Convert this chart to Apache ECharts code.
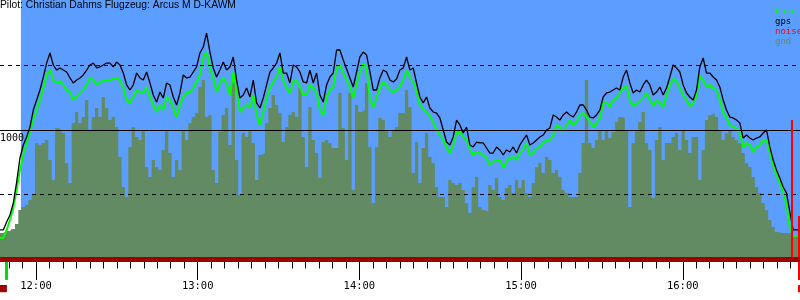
<!DOCTYPE html>
<html>
<head>
<meta charset="utf-8">
<style>
    html, body { margin: 0; padding: 0; background: #fff; }
    #barogram { width: 800px; height: 300px; }
</style>
</head>
<body>
<div id="barogram"></div>
<script src="https://cdn.jsdelivr.net/npm/echarts@6/dist/echarts.min.js"></script>
<script>
    // barogram: x = minutes since midnight, y = metres
    var title = 'Pilot: Christian Dahms Flugzeug: Arcus M D-KAWM';
    var startTime = '11:46:38';   // first fix
    var sampleSeconds = 74.2;     // logger interval

    var gps = [
        228, 228, 290, 344, 436, 598, 784, 884, 946, 1023, 1154, 1232, 1309, 1409, 1517, 1595, 1502, 1463, 1479, 1463,
        1448, 1402, 1363, 1386, 1402, 1425, 1463, 1502, 1517, 1479, 1487, 1502, 1517, 1517, 1487, 1525, 1502, 1440, 1348, 1309,
        1348, 1440, 1402, 1386, 1448, 1363, 1270, 1216, 1293, 1247, 1363, 1348, 1255, 1193, 1286, 1425, 1402, 1409, 1448, 1487,
        1595, 1641, 1749, 1602, 1479, 1409, 1463, 1525, 1463, 1487, 1564, 1386, 1247, 1270, 1324, 1255, 1386, 1209, 1170, 1247,
        1348, 1448, 1479, 1517, 1595, 1440, 1440, 1363, 1502, 1487, 1448, 1371, 1363, 1463, 1363, 1440, 1270, 1216, 1348, 1409,
        1440, 1618, 1618, 1541, 1471, 1402, 1332, 1448, 1564, 1602, 1579, 1448, 1309, 1309, 1402, 1463, 1448, 1386, 1371, 1394,
        1463, 1479, 1564, 1463, 1479, 1363, 1255, 1209, 1255, 1170, 1139, 1131, 1093, 1000, 907, 884, 946, 1077, 1039, 977,
        1023, 884, 869, 907, 900, 900, 861, 822, 822, 869, 846, 807, 846, 830, 869, 822, 884, 923, 961, 884,
        900, 923, 946, 961, 1000, 1015, 1116, 1100, 1077, 1116, 1139, 1116, 1100, 1139, 1193, 1193, 1154, 1100, 1093, 1116,
        1154, 1255, 1286, 1293, 1309, 1324, 1309, 1409, 1463, 1363, 1286, 1309, 1293, 1348, 1386, 1348, 1270, 1293, 1332, 1270,
        1324, 1409, 1502, 1479, 1448, 1348, 1286, 1255, 1232, 1309, 1487, 1556, 1440, 1440, 1409, 1386, 1332, 1232, 1154, 1100,
        1093, 1077, 1054, 938, 961, 938, 923, 938, 946, 977, 1000, 869, 768, 691, 629, 560, 514, 367, 228, 228, 228
    ];
    var baro = [
        166, 166, 228, 305, 398, 537, 691, 807, 900, 985, 1077, 1154, 1232, 1324, 1425, 1463, 1386, 1363, 1378, 1348,
        1309, 1293, 1232, 1255, 1286, 1309, 1348, 1402, 1386, 1348, 1371, 1378, 1386, 1386, 1394, 1402, 1386, 1324, 1232, 1209,
        1255, 1309, 1293, 1286, 1332, 1255, 1193, 1139, 1193, 1154, 1255, 1232, 1170, 1100, 1193, 1255, 1286, 1293, 1324, 1371,
        1425, 1556, 1602, 1479, 1402, 1293, 1363, 1402, 1363, 1270, 1448, 1309, 1139, 1170, 1193, 1178, 1270, 1116, 1039, 1139,
        1247, 1324, 1371, 1409, 1487, 1386, 1324, 1286, 1371, 1386, 1332, 1270, 1270, 1348, 1324, 1286, 1154, 1116, 1255, 1309,
        1332, 1479, 1502, 1440, 1386, 1332, 1247, 1348, 1448, 1517, 1479, 1232, 1178, 1255, 1324, 1371, 1348, 1309, 1293, 1309,
        1332, 1386, 1463, 1409, 1371, 1293, 1193, 1162, 1139, 1108, 1062, 1000, 961, 923, 861, 822, 884, 977, 985, 946,
        923, 846, 807, 830, 822, 807, 784, 730, 753, 768, 768, 707, 753, 784, 792, 768, 822, 846, 900, 807,
        822, 861, 869, 900, 923, 923, 961, 1039, 1023, 985, 1039, 1077, 1039, 1062, 1116, 1131, 1100, 1062, 1023, 1054,
        1093, 1209, 1216, 1178, 1232, 1247, 1286, 1324, 1340, 1232, 1185, 1201, 1224, 1247, 1286, 1232, 1185, 1232, 1209, 1178,
        1263, 1348, 1394, 1386, 1324, 1270, 1232, 1185, 1201, 1270, 1417, 1386, 1332, 1348, 1324, 1309, 1232, 1139, 1093, 1039,
        1023, 1015, 977, 869, 900, 884, 830, 869, 884, 923, 923, 822, 730, 653, 591, 521, 421, 251, 181, 181, 181
    ];
    var gnd = [
        205, 205, 220, 220, 236, 274, 382, 405, 421, 459, 498, 900, 884, 900, 923, 768, 614, 1015, 1000, 977,
        745, 591, 1054, 1139, 1054, 1100, 1232, 1000, 1100, 1170, 1100, 1255, 1170, 1077, 1100, 1023, 792, 560, 483, 869,
        1023, 946, 923, 1000, 714, 637, 768, 714, 691, 846, 1000, 822, 637, 768, 691, 1000, 923, 1054, 1100, 1131,
        1332, 1386, 1100, 1116, 691, 591, 985, 1116, 1170, 884, 1371, 768, 498, 977, 946, 1000, 900, 614, 807, 822,
        1054, 1170, 1270, 1193, 1131, 907, 1023, 1116, 1139, 1100, 1324, 946, 714, 1178, 923, 822, 629, 907, 923, 900,
        861, 861, 1286, 1015, 768, 1286, 537, 1193, 1139, 1154, 1363, 869, 436, 869, 1093, 1077, 1000, 946, 1000, 1023,
        1131, 1131, 1309, 1178, 668, 907, 591, 861, 977, 792, 745, 560, 483, 483, 405, 614, 591, 575, 591, 537,
        436, 359, 560, 637, 405, 382, 367, 575, 537, 629, 483, 459, 552, 575, 514, 614, 552, 614, 514, 483,
        591, 714, 745, 668, 792, 768, 668, 691, 637, 537, 514, 483, 483, 483, 668, 900, 1386, 900, 861, 923,
        1000, 923, 1000, 938, 985, 1062, 1100, 1093, 1000, 405, 900, 1000, 1062, 1139, 900, 846, 475, 923, 1023, 768,
        900, 900, 946, 977, 846, 1000, 923, 822, 946, 946, 614, 846, 1077, 1116, 1131, 1100, 1000, 923, 977, 1000,
        946, 923, 900, 822, 745, 714, 637, 560, 514, 436, 382, 305, 251, 212, 205, 205, 205, 205, 174, 174, 174
    ];

    var noiseTimes = [709.2, 741.9, 786.8, 796.4, 821.7, 863.2, 890.7, 903.7];
    var noiseLevels = [127, 35, 30, 25, 42, 27, 27, 408];

    // start / landing markers: [time, from, to, colour]
    var events = [
        [709.1, -19, -158, '#00dd00'],
        [1000.5, 0, 1077, '#ff0000'],
        [1003.1, 336, -158, '#ff0000'],
        [1003.1, -197, -253, '#ff0000']
    ];

    var hourTicks = [720, 780, 840, 900, 960];
    var minorStep = 5;
    var refLines = [500, 1000, 1500];
    var skyStart = 714.4;
    var axisMin = 706.64, axisMax = 1003.5;
    var altMin = -313, altMax = 2004;
    var baseLift = -40.5;   // pull the tick axes up from the chart's bottom edge to altitude 0

    function toMinutes(s) {
        var p = s.split(':');
        return +p[0] * 60 + +p[1] + (+p[2] || 0) / 60;
    }
    function clock(v) {
        var h = Math.floor(v / 60), m = Math.round(v - h * 60);
        return h + ':' + (m < 10 ? '0' : '') + m;
    }
    var t0 = toMinutes(startTime);
    function track(arr) {
        return arr.map(function (v, i) { return [t0 + i * sampleSeconds / 60, v]; });
    }
    var minorTicks = [];
    for (var m = Math.ceil(axisMin / minorStep) * minorStep; m <= axisMax; m += minorStep) minorTicks.push(m);

    var mono = 'DejaVu Sans Mono';
    var chart = echarts.init(document.getElementById('barogram'));
    var option = {
        animation: false,
        title: {
            text: title, left: 0, top: 0, padding: 0,
            textStyle: { fontFamily: 'Liberation Sans', fontSize: 10.3, fontWeight: 'normal', color: '#000' }
        },
        legend: {
            left: 765, top: 2, orient: 'vertical', itemGap: 0, itemWidth: 0, itemHeight: 10,
            selectedMode: false, icon: 'rect', itemStyle: { opacity: 0 },
            textStyle: { fontFamily: mono, fontSize: 9, lineHeight: 10, padding: 0 },
            data: [
                { name: 'baro', textStyle: { color: '#00ff00' } },
                { name: 'gps', textStyle: { color: '#000000' } },
                { name: 'noise', textStyle: { color: '#ff0000' } },
                { name: 'gnd', textStyle: { color: '#638b63' } }
            ]
        },
        grid: { left: 0, right: 0, top: 0, bottom: 0, containLabel: false, outerBoundsMode: 'none' },
        xAxis: [
            {
                type: 'value', position: 'bottom', min: axisMin, max: axisMax, z: 10,
                axisLine: { show: true, onZero: true, onZeroAxisIndex: 0, lineStyle: { color: '#a00000', width: 5 } },
                axisTick: { show: false }, axisLabel: { show: false }, splitLine: { show: false }
            },
            {
                type: 'value', position: 'bottom', min: axisMin, max: axisMax, z: 1,
                axisLine: { show: false, onZero: true, onZeroAxisIndex: 0 },
                axisTick: { show: true, customValues: minorTicks, length: 9, lineStyle: { color: '#000' } },
                axisLabel: { show: false }, splitLine: { show: false }
            },
            {
                type: 'value', position: 'bottom', offset: baseLift, min: axisMin, max: axisMax, z: 1,
                axisLine: { show: false, onZero: false },
                axisTick: { show: true, customValues: hourTicks, length: 20.5, lineStyle: { color: '#000' } },
                axisLabel: {
                    show: true, customValues: hourTicks, formatter: clock, margin: 21,
                    fontFamily: mono, fontSize: 10.5, color: '#000'
                },
                splitLine: { show: false }
            }
        ],
        yAxis: { type: 'value', min: altMin, max: altMax, show: false, splitLine: { show: false } },
        series: [
            {
                name: 'gnd', type: 'line', data: track(gnd), step: 'middle', showSymbol: false,
                lineStyle: { width: 0 }, itemStyle: { color: '#638b63' },
                areaStyle: { color: '#638b63', opacity: 1 },
                markArea: {
                    silent: true, itemStyle: { color: '#5c9eff' },
                    data: [[{ xAxis: skyStart, yAxis: 0 }, { xAxis: axisMax, yAxis: altMax }]]
                },
                markLine: {
                    silent: true, symbol: ['none', 'none'],
                    label: { show: false },
                    data: refLines.map(function (v) {
                        var solid = v === 1000;
                        return {
                            yAxis: v,
                            lineStyle: { color: '#000', width: 1, type: solid ? 'solid' : [4, 4] },
                            label: {
                                show: solid, position: 'insideStartBottom', formatter: String(v),
                                distance: [0, 3], padding: 0, fontFamily: mono, fontSize: 10, color: '#000'
                            }
                        };
                    })
                }
            },
            {
                name: 'noise', type: 'bar', barWidth: 2, itemStyle: { color: '#a00000' },
                data: noiseTimes.map(function (t, i) { return [t, noiseLevels[i]]; }),
                markLine: {
                    silent: true, symbol: ['none', 'none'], label: { show: false },
                    data: events.map(function (e) {
                        return [
                            { coord: [e[0], e[1]], lineStyle: { color: e[3], width: e[0] < 720 ? 3 : 2, type: 'solid' } },
                            { coord: [e[0], e[2]] }
                        ];
                    })
                },
                markArea: {
                    silent: true, itemStyle: { color: '#a00000' },
                    data: [[{ coord: [axisMin, -197] }, { coord: [709.2, -253] }]]
                }
            },
            {
                name: 'baro', type: 'line', data: track(baro), showSymbol: false,
                lineStyle: { color: '#00ff00', width: 2 }, itemStyle: { color: '#00ff00' }
            },
            {
                name: 'gps', type: 'line', data: track(gps), showSymbol: false,
                lineStyle: { color: '#000', width: 1.3 }, itemStyle: { color: '#000' }
            }
        ]
    };
    chart.setOption(option);
</script>
</body>
</html>
